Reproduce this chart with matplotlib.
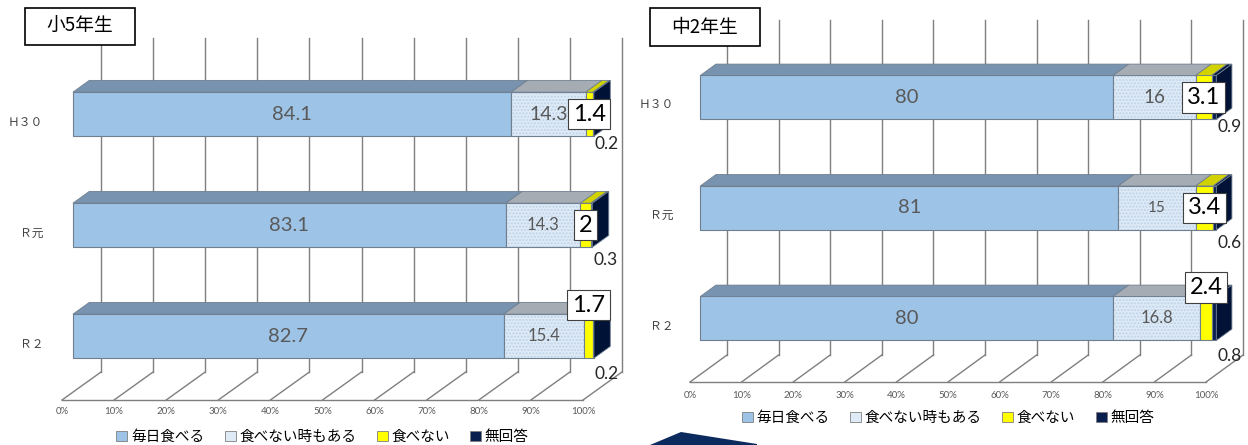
import numpy as np
import matplotlib
matplotlib.use('Agg')
import matplotlib.pyplot as plt
from matplotlib.patches import Polygon, Rectangle, Patch

plt.rcParams['font.family'] = ['Lato', 'Noto Sans CJK JP', 'DejaVu Sans']

# データ
categories = ['Ｈ３０', 'Ｒ元', 'Ｒ２']
series = ['毎日食べる', '食べない時もある', '食べない', '無回答']
ticks = np.arange(0, 101, 10)
tick_labels = [f'{t}%' for t in ticks]

grade5_title = '小5年生'
grade5_every = [84.1, 83.1, 82.7]
grade5_some = [14.3, 14.3, 15.4]
grade5_never = [1.4, 2, 1.7]
grade5_none = [0.2, 0.3, 0.2]

grade8_title = '中2年生'
grade8_every = [80, 81, 80]
grade8_some = [16, 15, 16.8]
grade8_never = [3.1, 3.4, 2.4]
grade8_none = [0.9, 0.6, 0.8]

# 色
front_cols = ['#9DC3E6', '#DEEBF7', '#FFFF00', '#0B1F4E']
top_cols = ['#7893B0', '#A5ACB4', '#D2D200', '#06183F']
side_col = '#001236'
grid_col = '#7f7f7f'
edge_col = '#6F7F90'

W, H = 1248, 445
fig = plt.figure(figsize=(W / 100, H / 100), dpi=100)

# 配置 (ピクセル)
g5 = dict(px0=0, px1=636, x0=62, sx=5.21, base=344, step=111, floor=400, top=38,
          ddx=39, ddy=28, lab_gap=12, leg=437, lab_x=-3.6, tbox=(25, 8, 135, 45),
          some_fs=[14, 12, 12])
g8 = dict(px0=636, px1=1248, x0=690, sx=5.16, base=326, step=110.5, floor=382, top=20,
          ddx=37, ddy=27, lab_gap=14, leg=418, lab_x=-3.2, tbox=(650, 8, 760, 46),
          some_fs=[13.5, 11, 12])
D1, D2 = 0.28, 0.70
BAR_PX = 44
box_lift = [0, 0, 1]
none_drop = [8, 13, 16]


def draw_panel(g, title, every, some, never, none):
    ax = fig.add_axes([g['px0'] / W, 0, (g['px1'] - g['px0']) / W, 1])
    ax.set_axis_off()
    ax.set_xlim((g['px0'] - g['x0']) / g['sx'], (g['px1'] - g['x0']) / g['sx'])
    ax.set_ylim((g['base'] - H) / g['step'], g['base'] / g['step'])
    dxd = g['ddx'] / g['sx']
    dyd = g['ddy'] / g['step']
    px = 1 / g['step']
    yfloor = (g['base'] - g['floor']) / g['step']
    ytop = (g['base'] - g['top']) / g['step'] - dyd
    h = BAR_PX / g['step']

    # 壁と床
    for t in ticks:
        ax.plot([t + dxd] * 2, [yfloor + dyd, ytop + dyd], color=grid_col, lw=1, zorder=1)
        ax.plot([t, t + dxd], [yfloor, yfloor + dyd], color=grid_col, lw=1, zorder=1)
    ax.plot([0, 100], [yfloor, yfloor], color=grid_col, lw=1, zorder=1)
    for t, lab in zip(ticks, tick_labels):
        ax.text(t, yfloor - g['lab_gap'] * px, lab, ha='center', va='center',
                fontsize=7, color='#595959')

    data = np.array([every, some, never, none], dtype=float).T
    n = len(categories)
    for i, cat in enumerate(categories):
        yc = n - 1 - i
        ax.text(g['lab_x'], yc, cat, ha='right', va='center', fontsize=8.5,
                color='#404040', family='Noto Sans CJK JP')
        fy = yc + D1 * dyd
        by = yc + D2 * dyd
        left = 0.0
        for j, v in enumerate(data[i]):
            right = left + v
            fl, fr = left + D1 * dxd, right + D1 * dxd
            bl, br = left + D2 * dxd, right + D2 * dxd
            if j == 1:
                ax.add_patch(Rectangle((fl, fy - h / 2), v, h, facecolor=front_cols[j],
                                       edgecolor='#BFD2E8', hatch='.....', lw=0, zorder=3))
                ax.add_patch(Rectangle((fl, fy - h / 2), v, h, fill=False,
                                       edgecolor=edge_col, lw=0.8, zorder=3))
            else:
                ax.add_patch(Rectangle((fl, fy - h / 2), v, h, facecolor=front_cols[j],
                                       edgecolor=edge_col, lw=0.8, zorder=3))
            ax.add_patch(Polygon([(fl, fy + h / 2), (fr, fy + h / 2),
                                  (br, by + h / 2), (bl, by + h / 2)],
                                 facecolor=top_cols[j], edgecolor=edge_col, lw=0.6, zorder=3))
            cx = (fl + fr) / 2
            if j == 0:
                ax.text(cx, fy, f'{v:g}', ha='center', va='center', fontsize=14.5,
                        color='#595959', zorder=5)
            elif j == 1:
                ax.text(cx, fy, f'{v:g}', ha='center', va='center', fontsize=g['some_fs'][i],
                        color='#595959', zorder=5)
            elif j == 2:
                ax.text(cx, fy + box_lift[i] * 31 * px, f'{v:g}', ha='center', va='center',
                        fontsize=17, color='black', zorder=6,
                        bbox=dict(boxstyle='square,pad=0.2', facecolor='white',
                                  edgecolor='#404040', lw=0.8))
            else:
                ax.text(fr + 2.5, fy - h / 2 - none_drop[i] * px, f'{v:g}', ha='center',
                        va='center', fontsize=12.5, color='#262626', zorder=6)
            left = right
        # 右側面
        fr, br = left + D1 * dxd, left + D2 * dxd
        ax.add_patch(Polygon([(fr, fy - h / 2), (fr, fy + h / 2),
                              (br, by + h / 2), (br, by - h / 2)],
                             facecolor=side_col, edgecolor=edge_col, lw=0.6, zorder=3))

    # 凡例
    handles = [Patch(facecolor=c, edgecolor='#7f7f7f', lw=0.6) for c in front_cols]
    ax.legend(handles, series, loc='center', bbox_to_anchor=(50, (g['base'] - g['leg']) / g['step']),
              bbox_transform=ax.transData, ncol=4, frameon=False,
              handlelength=0.75, handleheight=0.75, handletextpad=0.25, columnspacing=1.4,
              borderaxespad=0, prop={'family': 'Noto Sans CJK JP', 'size': 10.5})

    # タイトル枠
    x1, y1, x2, y2 = g['tbox']
    fig.add_artist(Rectangle((x1 / W, 1 - y2 / H), (x2 - x1) / W, (y2 - y1) / H,
                             transform=fig.transFigure, facecolor='white',
                             edgecolor='black', lw=1.2, zorder=10))
    fig.text((x1 + x2) / 2 / W, 1 - (y1 + y2) / 2 / H, title, ha='center', va='center',
             fontsize=13.5, family='Noto Sans CJK JP', zorder=11)


draw_panel(g5, grade5_title, grade5_every, grade5_some, grade5_never, grade5_none)
draw_panel(g8, grade8_title, grade8_every, grade8_some, grade8_never, grade8_none)

# 下の飾り
deco = [(650, 445), (681, 432), (757, 444), (757, 445)]
fig.add_artist(Polygon([(x / W, 1 - y / H) for x, y in deco], transform=fig.transFigure,
                       facecolor='#0B2A5E', edgecolor='none'))

fig.savefig('out.png', dpi=100, facecolor='white')
